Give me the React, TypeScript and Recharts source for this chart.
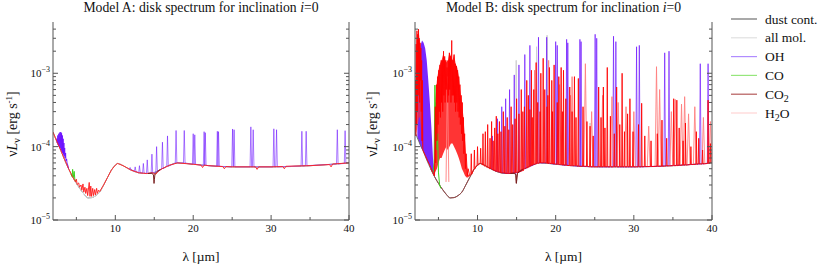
import React from "react";
import { ComposedChart, Line, Area, XAxis, YAxis } from "recharts";

const SERIF = '"Liberation Serif"';
const FRAME = "#555";
const TXT = { fontFamily: SERIF };

type P = [number, number];
type S = [number, number, number];

const X_DOMAIN: [number, number] = [2, 40];
const Y_DOMAIN: [number, number] = [1e-5, 5e-3];
const X_TICKS = [5, 10, 15, 20, 25, 30, 35, 40];
const Y_TICKS = [
  1e-5, 2e-5, 3e-5, 4e-5, 5e-5, 6e-5, 7e-5, 8e-5, 9e-5,
  1e-4, 2e-4, 3e-4, 4e-4, 5e-4, 6e-4, 7e-4, 8e-4, 9e-4,
  1e-3, 2e-3, 3e-3, 4e-3,
];

// dust continuum, same for both models [lambda, nuL_nu]
const DUST: P[] = [
  [2, 1.58e-4], [2.5, 1.17e-4], [3, 8.9e-5], [3.5, 6.6e-5], [4, 5.0e-5], [4.5, 3.9e-5],
  [5, 3.16e-5], [5.5, 2.63e-5], [6, 2.24e-5], [6.5, 2.0e-5], [7, 2.02e-5], [7.5, 2.15e-5],
  [8, 2.4e-5], [8.5, 3.0e-5], [9, 3.8e-5], [9.5, 4.8e-5], [10, 5.6e-5], [10.3, 5.9e-5],
  [11, 5.5e-5], [12, 4.8e-5], [13, 4.4e-5], [14, 4.3e-5], [15, 4.45e-5], [16, 5.0e-5],
  [17, 5.6e-5], [18, 6.0e-5], [20, 5.75e-5], [22, 5.5e-5], [25, 5.3e-5], [30, 5.3e-5],
  [35, 5.5e-5], [40, 6.0e-5],
];

// ---- Model A ----
const H2O_A: P[] = [
  [2, 1.58e-4], [2.5, 1.17e-4], [3, 8.9e-5], [3.5, 6.6e-5], [4, 5.0e-5], [4.5, 3.9e-5],
  [4.9, 3.3e-5], [5.0, 3.6e-5], [5.1, 3.05e-5], [5.3, 3.2e-5], [5.4, 2.8e-5], [5.6, 3.0e-5],
  [5.7, 2.55e-5], [5.85, 3.1e-5], [5.95, 2.4e-5], [6.1, 2.8e-5], [6.2, 2.3e-5], [6.35, 2.7e-5],
  [6.45, 2.15e-5], [6.65, 3.25e-5], [6.75, 2.1e-5], [6.85, 2.9e-5], [6.95, 2.1e-5], [7.1, 2.7e-5],
  [7.2, 2.15e-5], [7.35, 2.6e-5], [7.45, 2.2e-5], [7.6, 2.7e-5], [7.7, 2.3e-5], [7.85, 2.55e-5],
  [8.0, 2.45e-5], [8.5, 3.0e-5], [9, 3.8e-5], [9.5, 4.8e-5], [10, 5.6e-5], [10.3, 5.9e-5],
  [11, 5.5e-5], [12, 4.8e-5], [13, 4.4e-5], [14, 4.3e-5], [14.8, 4.4e-5], [15.2, 4.2e-5],
  [15.5, 4.6e-5], [16, 5.0e-5], [17, 5.6e-5], [18, 6.0e-5], [20, 5.75e-5], [21.0, 5.6e-5],
  [21.2, 5.2e-5], [21.4, 5.6e-5], [22, 5.5e-5], [23.8, 5.35e-5], [24.0, 5.0e-5], [24.2, 5.35e-5],
  [25, 5.3e-5], [28.0, 5.3e-5], [28.2, 4.9e-5], [28.4, 5.3e-5], [30, 5.3e-5], [31.5, 5.35e-5],
  [31.7, 5.0e-5], [31.9, 5.4e-5], [35, 5.5e-5], [37.5, 5.7e-5], [37.7, 5.3e-5], [37.9, 5.8e-5],
  [40, 6.0e-5],
];
const OH_A_BAND: P[] = [
  [2.4, 1.25e-4], [2.5, 1.28e-4], [2.55, 1.12e-4], [2.62, 1.42e-4], [2.68, 1.05e-4], [2.75, 1.5e-4],
  [2.8, 1.0e-4], [2.88, 1.56e-4], [2.93, 9.6e-5], [3.0, 1.58e-4], [3.04, 9.0e-5], [3.1, 1.52e-4],
  [3.14, 8.6e-5], [3.2, 1.42e-4], [3.24, 8.2e-5], [3.3, 1.28e-4], [3.34, 7.8e-5], [3.4, 1.12e-4],
  [3.44, 7.4e-5], [3.5, 9.6e-5], [3.55, 7.0e-5], [3.62, 8.2e-5], [3.66, 6.4e-5], [3.75, 6.8e-5],
  [3.8, 6.0e-5], [3.9, 5.6e-5], [4.0, 5.0e-5],
];
// [lambda, base, peak]
const OH_A_LINES: S[] = [
  [11.9, 4.9e-5, 5.2e-5], [12.55, 4.6e-5, 5.3e-5], [13.1, 4.4e-5, 5.5e-5], [13.6, 4.35e-5, 5.9e-5],
  [14.1, 4.3e-5, 6.6e-5], [14.7, 4.35e-5, 7.9e-5], [15.3, 4.5e-5, 1.0e-4], [16.05, 5.0e-5, 1.15e-4],
  [16.7, 5.4e-5, 1.4e-4], [17.8, 6.0e-5, 1.66e-4], [18.85, 6.0e-5, 1.66e-4], [20.0, 5.75e-5, 1.5e-4],
  [20.2, 5.75e-5, 1.45e-4], [21.4, 5.55e-5, 1.6e-4], [21.55, 5.55e-5, 1.55e-4], [23.1, 5.4e-5, 1.62e-4],
  [23.25, 5.4e-5, 1.6e-4], [25.05, 5.3e-5, 1.74e-4], [25.25, 5.3e-5, 1.7e-4], [27.4, 5.3e-5, 1.86e-4],
  [27.7, 5.3e-5, 1.7e-4], [30.35, 5.3e-5, 1.75e-4], [30.7, 5.3e-5, 1.7e-4], [33.95, 5.45e-5, 1.62e-4],
  [34.5, 5.5e-5, 1.62e-4], [38.5, 5.8e-5, 1.7e-4], [39.5, 5.9e-5, 1.65e-4],
];
const CO_A: P[] = [
  [4.3, 4.2e-5], [4.45, 3.9e-5], [4.52, 4.9e-5], [4.6, 3.8e-5], [4.72, 4.6e-5], [4.8, 3.6e-5], [4.9, 3.4e-5],
];
const CO2_A: P[] = [
  [14.2, 4.3e-5], [14.7, 4.35e-5], [14.9, 4.1e-5], [14.97, 3.15e-5], [15.02, 3.6e-5], [15.1, 4.3e-5],
  [15.4, 4.6e-5], [15.8, 4.9e-5],
];

// ---- Model B ----
const OH_B_BAND: S[] = [
  [2.3, 1.35e-4, 4e-4], [2.5, 1.17e-4, 1.2e-3], [2.7, 1.0e-4, 2.4e-3], [2.9, 9.2e-5, 2.8e-3],
  [3.1, 8.5e-5, 2.6e-3], [3.3, 7.6e-5, 2.2e-3], [3.5, 6.6e-5, 1.5e-3], [3.7, 6.0e-5, 8e-4],
  [3.9, 5.4e-5, 4e-4], [4.1, 4.8e-5, 1.8e-4], [4.3, 4.4e-5, 7e-5], [4.5, 3.9e-5, 4.0e-5],
];
const OH_B_LINES: S[] = [
  [11.9, 4.9e-5, 1.4e-4], [12.55, 4.6e-5, 2.4e-4], [13.1, 4.4e-5, 3.5e-4], [13.6, 4.35e-5, 4.5e-4],
  [14.1, 4.3e-5, 6.0e-4], [14.7, 4.35e-5, 9.5e-4], [15.3, 4.5e-5, 1.3e-3], [16.05, 5.0e-5, 1.8e-3],
  [16.7, 5.4e-5, 2.4e-3], [17.8, 6.0e-5, 3.1e-3], [18.85, 6.0e-5, 3.1e-3], [20.0, 5.75e-5, 2.7e-3],
  [20.2, 5.75e-5, 2.4e-3], [21.4, 5.55e-5, 2.9e-3], [21.55, 5.55e-5, 2.6e-3], [23.1, 5.4e-5, 2.9e-3],
  [23.25, 5.4e-5, 2.7e-3], [25.05, 5.3e-5, 3.4e-3], [25.25, 5.3e-5, 3.0e-3], [27.4, 5.3e-5, 3.2e-3],
  [27.7, 5.3e-5, 2.7e-3], [30.35, 5.3e-5, 2.3e-3], [30.7, 5.3e-5, 2.4e-3], [33.95, 5.45e-5, 1.9e-3],
  [34.5, 5.5e-5, 2.0e-3], [38.5, 5.8e-5, 1.35e-3], [39.5, 5.9e-5, 1.35e-3],
];
const ALL_MOL_B: S[] = [
  [14.95, 4.4e-5, 1.5e-3], [17.55, 5.9e-5, 2.3e-3], [18.9, 6.0e-5, 3.3e-3], [24.4, 5.3e-5, 2.1e-4],
];
const CO_B: P[] = [
  [4.3, 4.4e-5], [4.45, 6e-5], [4.55, 6.9e-4], [4.62, 1.2e-4], [4.7, 4e-4], [4.78, 9e-5],
  [4.9, 1.5e-4], [5.0, 4.5e-5], [5.15, 3.0e-5], [5.3, 2.7e-5],
];
const CO2_B: P[] = [
  [4.0, 5.0e-5], [4.5, 3.9e-5], [5, 3.16e-5], [5.5, 2.63e-5], [6, 2.24e-5], [6.5, 2.0e-5],
  [7, 2.02e-5], [7.5, 2.15e-5], [8, 2.4e-5], [8.5, 3.0e-5], [9, 3.8e-5], [9.5, 4.8e-5],
  [10, 5.6e-5], [10.3, 5.9e-5], [11, 5.5e-5], [12, 4.8e-5], [13, 4.4e-5], [14, 4.3e-5],
  [14.7, 4.4e-5], [14.9, 4.2e-5], [14.97, 3.2e-5], [15.03, 3.8e-5], [15.2, 4.5e-5], [16, 5.0e-5],
];
const H2O_B_LEFT_BAND: S[] = [
  [2.0, 1.58e-4, 1.6e-4], [2.1, 1.45e-4, 1.2e-3], [2.2, 1.6e-4, 2.8e-3], [2.35, 2.0e-4, 3.4e-3],
  [2.5, 2.5e-4, 3.5e-3], [2.65, 2.5e-4, 2.6e-3], [2.8, 1.6e-4, 1.6e-3], [2.9, 1.1e-4, 9e-4],
  [3.0, 9e-5, 9.2e-5],
];
const H2O_B_LEFT: P[] = [
  [2.0, 1.58e-4], [2.05, 8e-4], [2.1, 1.4e-4], [2.15, 2.5e-3], [2.2, 2.0e-4], [2.25, 3.8e-3],
  [2.3, 3e-4], [2.35, 3.4e-3], [2.4, 5e-4], [2.45, 4.0e-3], [2.5, 6e-4], [2.55, 3.0e-3],
  [2.6, 4e-4], [2.65, 2.6e-3], [2.7, 8e-4], [2.75, 2.2e-3], [2.8, 3e-4], [2.85, 1.5e-3],
  [2.9, 1.2e-4], [2.95, 8e-4], [3.0, 9e-5],
];
const H2O_B_BAND: S[] = [
  [4.4, 4.0e-5, 4.2e-5], [4.6, 4.5e-5, 4.3e-4], [4.8, 5e-5, 8e-4], [5.0, 6e-5, 1.1e-3],
  [5.2, 7e-5, 1.35e-3], [5.4, 7e-5, 1.5e-3], [5.6, 8e-5, 1.8e-3], [5.8, 9e-5, 1.6e-3],
  [6.0, 1.0e-4, 1.4e-3], [6.2, 9e-5, 1.5e-3], [6.4, 1.0e-4, 1.9e-3], [6.6, 1.1e-4, 1.7e-3],
  [6.8, 1.1e-4, 1.5e-3], [7.0, 1.0e-4, 1.8e-3], [7.2, 9e-5, 1.35e-3], [7.4, 8e-5, 1.2e-3],
  [7.6, 7e-5, 9.3e-4], [7.8, 6e-5, 6e-4], [8.0, 5e-5, 4.2e-4], [8.2, 4.5e-5, 2.5e-4],
  [8.4, 4e-5, 1.2e-4], [8.6, 3.8e-5, 6e-5], [8.8, 3.8e-5, 4.2e-5], [9.0, 4.0e-5, 4.0e-5],
];
const H2O_B_BAND_LINES: P[] = [
  [4.5, 4e-5], [4.6, 3.5e-4], [4.65, 6e-5], [4.75, 7e-4], [4.8, 1.2e-4], [4.9, 9e-4],
  [4.95, 2e-4], [5.05, 1.1e-3], [5.1, 3e-4], [5.2, 1.3e-3], [5.25, 2.5e-4], [5.35, 1.5e-3],
  [5.4, 4e-4], [5.5, 1.5e-3], [5.55, 3e-4], [5.65, 2.0e-3], [5.7, 5e-4], [5.8, 1.7e-3],
  [5.85, 4e-4], [5.95, 1.5e-3], [6.0, 6e-4], [6.1, 1.2e-3], [6.2, 4e-4], [6.25, 1.5e-3],
  [6.3, 5e-4], [6.4, 1.9e-3], [6.45, 6e-4], [6.55, 1.7e-3], [6.6, 4e-4], [6.7, 2.8e-3],
  [6.75, 5e-4], [6.85, 1.5e-3], [6.9, 5e-4], [7.0, 1.8e-3], [7.05, 4e-4], [7.15, 1.35e-3],
  [7.2, 3e-4], [7.3, 1.25e-3], [7.35, 4e-4], [7.45, 1.1e-3], [7.5, 3e-4], [7.6, 9e-4],
  [7.65, 2.5e-4], [7.75, 7e-4], [7.8, 2e-4], [7.9, 5e-4], [7.95, 1.5e-4], [8.05, 4e-4],
  [8.1, 1.2e-4], [8.2, 2.5e-4], [8.25, 8e-5], [8.35, 1.5e-4], [8.45, 5e-5], [8.55, 8e-5],
  [8.7, 4e-5], [8.8, 5e-5], [9.0, 4e-5],
];
const H2O_B_LINES: S[] = [
  [9.2, 4.2e-5, 8e-5], [9.6, 5.0e-5, 9e-5], [10.0, 5.6e-5, 1.0e-4], [10.4, 5.9e-5, 9.5e-5],
  [10.7, 5.6e-5, 1.5e-4], [11.0, 5.4e-5, 1.6e-4], [11.3, 5.2e-5, 2.0e-4], [11.6, 5.0e-5, 1.3e-4],
  [11.8, 5.0e-5, 2.2e-4], [12.0, 4.8e-5, 1.2e-4], [12.2, 4.7e-5, 1.8e-4], [12.4, 4.6e-5, 2.6e-4],
  [12.6, 4.6e-5, 1.5e-4], [12.8, 4.5e-5, 2.2e-4], [13.0, 4.4e-5, 1.6e-4], [13.3, 4.4e-5, 3.0e-4],
  [13.5, 4.35e-5, 1.9e-4], [13.8, 4.3e-5, 2.5e-4], [14.0, 4.3e-5, 1.7e-4], [14.3, 4.3e-5, 3.5e-4],
  [14.5, 4.3e-5, 2.0e-4], [14.8, 4.4e-5, 2.4e-4], [15.0, 4.4e-5, 4.5e-4], [15.3, 4.5e-5, 2.8e-4],
  [15.6, 4.6e-5, 6.0e-4], [15.8, 4.7e-5, 3.0e-4], [16.0, 5.0e-5, 3.5e-4], [16.3, 5.1e-5, 8.0e-4],
  [16.5, 5.2e-5, 5.0e-4], [16.7, 5.4e-5, 3.2e-4], [16.9, 5.5e-5, 1.1e-3], [17.0, 5.6e-5, 2.5e-4],
  [17.2, 5.7e-5, 6.0e-4], [17.5, 5.8e-5, 1.4e-3], [17.7, 5.9e-5, 4.0e-4], [18.0, 6.0e-5, 3.0e-4],
  [18.1, 6.0e-5, 1.0e-3], [18.4, 6.0e-5, 1.6e-3], [18.6, 6.0e-5, 6.0e-4], [18.9, 6.0e-5, 3.5e-4],
  [19.0, 5.9e-5, 5.0e-4], [19.2, 5.9e-5, 1.2e-3], [19.5, 5.9e-5, 8.0e-4], [19.6, 5.8e-5, 3.0e-4],
  [19.8, 5.8e-5, 1.3e-3], [20.2, 5.75e-5, 4.0e-4], [20.4, 5.7e-5, 9.0e-4], [20.7, 5.7e-5, 1.2e-3],
  [20.9, 5.6e-5, 3.0e-4], [21.0, 5.6e-5, 1.1e-3], [21.3, 5.6e-5, 4.5e-4], [21.8, 5.5e-5, 6.5e-4],
  [22.1, 5.5e-5, 3.0e-4], [22.4, 5.5e-5, 9.0e-4], [22.6, 5.5e-5, 2.5e-4], [22.9, 5.4e-5, 8.5e-4],
  [23.5, 5.4e-5, 3.5e-4], [24.0, 5.4e-5, 2.2e-4], [24.4, 5.3e-5, 1.9e-4], [24.8, 5.3e-5, 1.4e-4],
  [25.5, 5.3e-5, 6.5e-4], [25.8, 5.3e-5, 2.5e-4], [26.1, 5.3e-5, 6.5e-4], [26.3, 5.3e-5, 1.8e-4],
  [26.6, 5.3e-5, 1.2e-3], [27.0, 5.3e-5, 2.6e-4], [27.5, 5.3e-5, 1.5e-4], [27.8, 5.3e-5, 6.5e-4],
  [28.2, 5.3e-5, 2.0e-4], [28.5, 5.3e-5, 1.0e-3], [28.8, 5.3e-5, 1.6e-4], [29.2, 5.3e-5, 2.8e-4],
  [29.5, 5.3e-5, 4.5e-4], [29.9, 5.3e-5, 1.6e-4], [30.6, 5.3e-5, 2.0e-4], [31.0, 5.3e-5, 3.9e-4],
  [31.4, 5.35e-5, 1.4e-4], [32.2, 5.35e-5, 1.2e-4], [33.0, 5.4e-5, 1.5e-4], [33.6, 5.4e-5, 2.3e-4],
  [34.2, 5.45e-5, 1.3e-4], [35.1, 5.5e-5, 4.5e-4], [35.5, 5.5e-5, 4.3e-4], [35.8, 5.55e-5, 1.8e-4],
  [36.3, 5.6e-5, 1.2e-4], [36.6, 5.6e-5, 2.1e-4], [37.3, 5.7e-5, 1.0e-4], [38.0, 5.75e-5, 1.6e-4],
  [38.3, 5.8e-5, 1.3e-4], [38.8, 5.8e-5, 9e-5], [39.5, 5.9e-5, 4.3e-4], [39.8, 5.95e-5, 1.1e-4],
];
const H2O_B_PALE: S[] = [
  [6.15, 3.3e-5, 9e-4], [17.3, 5.8e-5, 1.1e-3], [19.1, 5.9e-5, 1.5e-3], [20.5, 5.7e-5, 7e-4],
  [21.9, 5.5e-5, 5e-4], [22.1, 5.5e-5, 9e-4], [23.8, 5.4e-5, 1.35e-3], [24.6, 5.3e-5, 3e-4],
  [26.0, 5.3e-5, 5e-4], [27.2, 5.3e-5, 4.8e-4], [28.0, 5.3e-5, 4e-4], [29.0, 5.3e-5, 3.5e-4],
  [30.0, 5.3e-5, 3.0e-4], [31.9, 5.35e-5, 1.9e-4], [32.9, 5.4e-5, 1.23e-3], [33.3, 5.4e-5, 6e-4],
  [34.8, 5.5e-5, 3e-4], [35.3, 5.5e-5, 4.4e-4], [36.1, 5.6e-5, 3.8e-4], [36.5, 5.6e-5, 4.8e-4],
  [37.0, 5.7e-5, 2.8e-4], [37.8, 5.7e-5, 3.5e-4], [38.9, 5.8e-5, 2.5e-4], [39.8, 5.95e-5, 2.2e-4],
];

const LEGEND = [
  { name: "dust cont.", sub: "", tail: "", color: "#707070" },
  { name: "all mol.", sub: "", tail: "", color: "#e0e0e0" },
  { name: "OH", sub: "", tail: "", color: "#b08cff" },
  { name: "CO", sub: "", tail: "", color: "#96e67c" },
  { name: "CO", sub: "2", tail: "", color: "#b45a5a" },
  { name: "H", sub: "2", tail: "O", color: "#ffd4d4" },
];

const pts = (a: P[]) => a.map(([x, y]) => ({ x, y }));
const spikes = (a: S[], w: number) =>
  [...a]
    .sort((p, q) => p[0] - q[0])
    .flatMap(([x, b, pk]) => [
      { x: x - w, y: b },
      { x, y: pk },
      { x: x + w, y: b },
    ]);
// separate spikes, broken apart by empty points
const spikesGap = (a: S[], w: number) =>
  [...a]
    .sort((p, q) => p[0] - q[0])
    .flatMap(([x, b, pk]) => [
      { x: x - w, y: b },
      { x, y: pk },
      { x: x + w, y: b },
      { x: x + w + 0.001, y: null },
    ]);
const band = (a: S[]) => a.map(([x, lo, hi]) => ({ x, r: [lo, hi] }));

const xTick = (side: "b" | "t") => (p: any) => {
  const v = p.payload.value;
  const major = v % 10 === 0;
  const len = major ? 5 : 3;
  const dir = side === "b" ? -1 : 1;
  return (
    <g>
      <line x1={p.x} x2={p.x} y1={p.y} y2={p.y + dir * len} stroke={FRAME} />
      {side === "b" && major && (
        <text x={p.x} y={p.y + 12} textAnchor="middle" fontSize={11} style={TXT} fill="#111">
          {v}
        </text>
      )}
    </g>
  );
};

const yTick = (side: "l" | "r") => (p: any) => {
  const v = p.payload.value;
  const e = Math.log10(v);
  const major = Math.abs(e - Math.round(e)) < 1e-6;
  const len = major ? 5 : 3;
  const dir = side === "l" ? 1 : -1;
  return (
    <g>
      <line x1={p.x} x2={p.x + dir * len} y1={p.y} y2={p.y} stroke={FRAME} />
      {side === "l" && major && (
        <text x={p.x - 3} y={p.y + 4} textAnchor="end" fontSize={11} style={TXT} fill="#111">
          10
          <tspan dy={-5} fontSize={8}>
            {"\u2212" + Math.round(-e)}
          </tspan>
        </text>
      )}
    </g>
  );
};

function axes(leftW: number, rightW: number) {
  const common = { allowDataOverflow: true, tickSize: 0, tickMargin: 0, interval: 0 as const, tickLine: false, axisLine: { stroke: FRAME } };
  return [
    <XAxis key="xb" xAxisId="b" dataKey="x" type="number" domain={X_DOMAIN} ticks={X_TICKS} height={45} tick={xTick("b")} {...common} />,
    <XAxis key="xt" xAxisId="t" orientation="top" dataKey="x" type="number" domain={X_DOMAIN} ticks={X_TICKS} height={0} tick={xTick("t")} {...common} />,
    <YAxis key="yl" yAxisId="l" type="number" scale="log" domain={Y_DOMAIN} ticks={Y_TICKS} width={leftW} tick={yTick("l")} {...common} />,
    <YAxis key="yr" yAxisId="r" orientation="right" type="number" scale="log" domain={Y_DOMAIN} ticks={Y_TICKS} width={rightW} tick={yTick("r")} {...common} />,
  ];
}

const ln = { xAxisId: "b", yAxisId: "l", dataKey: "y", dot: false, activeDot: false, isAnimationActive: false, strokeWidth: 1, type: "linear" as const };
const ar = { xAxisId: "b", yAxisId: "l", dataKey: "r", isAnimationActive: false, type: "linear" as const, stroke: "none", activeDot: false };

function YTitle({ x }: { x: number }) {
  return (
    <text transform={`translate(${x},124) rotate(-90)`} textAnchor="middle" fontSize={14} style={TXT} fill="#111">
      ν<tspan fontStyle="italic">L</tspan>
      <tspan dy={3} fontSize={10}>ν</tspan>
      <tspan dy={-3}> [erg s</tspan>
      <tspan dy={-5} fontSize={9}>-1</tspan>
      <tspan dy={5}>]</tspan>
    </text>
  );
}

function Titles() {
  return (
    <svg width={822} height={265} style={{ position: "absolute", left: 0, top: 0, pointerEvents: "none" }}>
      <text x={201} y={12} textAnchor="middle" fontSize={13.7} style={TXT} fill="#111">
        Model A: disk spectrum for inclination <tspan fontStyle="italic">i</tspan>=0
      </text>
      <text x={563.5} y={12} textAnchor="middle" fontSize={13.7} style={TXT} fill="#111">
        Model B: disk spectrum for inclination <tspan fontStyle="italic">i</tspan>=0
      </text>
      <YTitle x={17} />
      <YTitle x={377} />
      <text x={201} y={261} textAnchor="middle" fontSize={13.5} style={TXT} fill="#111">λ [µm]</text>
      <text x={563.5} y={261} textAnchor="middle" fontSize={13.5} style={TXT} fill="#111">λ [µm]</text>
      {LEGEND.map((l, i) => {
        const y = 19 + i * 18.8;
        return (
          <g key={i}>
            <line x1={731} x2={757} y1={y} y2={y} stroke={l.color} strokeWidth={1.2} />
            <text x={765} y={y + 4.5} fontSize={13.5} style={TXT} fill="#111">
              {l.name}
              {l.sub && <tspan dy={3} fontSize={10}>{l.sub}</tspan>}
              {l.sub && <tspan dy={-3}>{l.tail}</tspan>}
            </text>
          </g>
        );
      })}
    </svg>
  );
}

export default function App() {
  return (
    <div style={{ position: "absolute", left: 0, top: 0, width: 822, height: 265, background: "#fff", fontFamily: SERIF }}>
      <div style={{ position: "absolute", left: 0, top: 0 }}>
        <ComposedChart width={360} height={265} margin={{ top: 22, right: 0, bottom: 0, left: 0 }}>
          {axes(53, 11)}
          <Line {...ln} data={pts(DUST)} stroke="#6e6e6e" type="monotone" />
          <Line {...ln} data={pts(DUST)} stroke="#d9d9d9" type="monotone" />
          <Line {...ln} data={pts(OH_A_BAND)} stroke="#6a10ff" strokeOpacity={0.9} />
          <Line {...ln} data={spikes(OH_A_LINES, 0.1)} stroke="#6a10ff" strokeOpacity={0.55} />
          <Line {...ln} data={pts(CO_A)} stroke="#3cd21e" />
          <Line {...ln} data={pts(H2O_A)} stroke="#ff1a1a" strokeOpacity={0.9} />
          <Line {...ln} data={pts(CO2_A)} stroke="#7a2020" />
        </ComposedChart>
      </div>
      <div style={{ position: "absolute", left: 360, top: 0 }}>
        <ComposedChart width={462} height={265} margin={{ top: 22, right: 0, bottom: 0, left: 0 }}>
          {axes(55, 110)}
          <Line {...ln} data={pts(DUST)} stroke="#6e6e6e" type="monotone" />
          <Line {...ln} data={spikesGap(ALL_MOL_B, 0.08)} stroke="#d0d0d0" />
          <Line {...ln} data={pts(CO2_B)} stroke="#9a4a4a" type="monotone" />
          <Area {...ar} data={band(OH_B_BAND)} fill="#6a10ff" fillOpacity={0.9} />
          <Line {...ln} data={spikes(OH_B_LINES, 0.1)} stroke="#6a10ff" strokeOpacity={0.65} />
          <Line {...ln} data={pts(CO_B)} stroke="#3cd21e" />
          <Area {...ar} data={band(H2O_B_LEFT_BAND)} fill="#ff3030" fillOpacity={0.7} />
          <Area {...ar} data={band(H2O_B_BAND)} fill="#ff1010" fillOpacity={0.85} />
          <Line {...ln} data={spikesGap(H2O_B_PALE, 0.18)} stroke="#ff8080" strokeOpacity={0.9} />
          <Line
            {...ln}
            data={[...pts(H2O_B_LEFT), ...pts(H2O_B_BAND_LINES), ...spikes(H2O_B_LINES, 0.06)]}
            stroke="#ff0000"
            strokeOpacity={0.85}
          />
          <Line {...ln} data={pts(CO2_A)} stroke="#7a2020" />
        </ComposedChart>
      </div>
      <Titles />
    </div>
  );
}
